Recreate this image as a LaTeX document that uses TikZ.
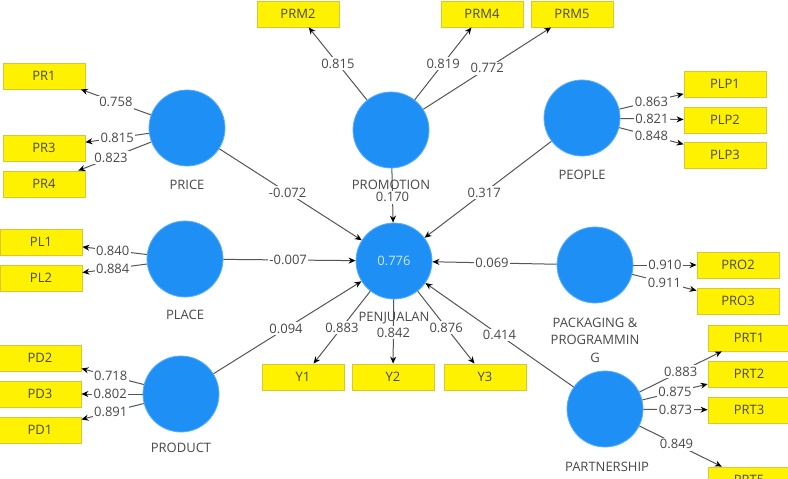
\documentclass[tikz,border=0pt]{standalone}
\usepackage{fontspec}
\setmainfont{Open Sans}
\usetikzlibrary{arrows.meta}
\definecolor{lv}{RGB}{30,144,245}
\definecolor{lvedge}{RGB}{90,175,250}
\definecolor{ind}{RGB}{255,242,0}
\definecolor{indedge}{RGB}{215,200,50}
\definecolor{txt}{RGB}{72,72,72}
\definecolor{wire}{RGB}{85,85,85}
\definecolor{rsq}{RGB}{205,230,255}
\begin{document}
\begin{tikzpicture}[x=0.5pt,y=-0.5pt,
  every node/.style={font=\fontsize{6.5}{8.75}\selectfont},
  lvnode/.style={circle, fill=lv, draw=lvedge, line width=0.4pt, minimum size=38pt, inner sep=0pt},
  indbox/.style={rectangle, fill=ind, draw=indedge, line width=0.4pt, minimum width=41pt, minimum height=13pt, inner sep=0pt, text=txt},
  lvname/.style={text=txt, align=center, inner sep=0pt},
  link/.style={draw=wire, line width=0.5pt, -{Stealth[length=3.5pt,width=3pt,color=black]}},
  wt/.style={fill=white, inner sep=0.8pt, text=txt, pos=0.5},
]
\useasboundingbox (0,0) rectangle (788,478);
\clip (0,0) rectangle (788,478);
\fill[white] (0,0) rectangle (788,478);

% latent variables
\node[lvnode] (price) at (187,128) {};
\node[lvnode] (promo) at (391,130) {};
\node[lvnode] (people) at (582,118) {};
\node[lvnode] (place) at (185,259) {};
\node[lvnode] (product) at (181,394) {};
\node[lvnode] (penj) at (394,261) {\textcolor{rsq}{0.776}};
\node[lvnode] (pack) at (595,265) {};
\node[lvnode] (partner) at (605,409) {};

% indicators
\node[indbox] (pr1) at (44,76) {PR1};
\node[indbox] (pr3) at (44,148) {PR3};
\node[indbox] (pr4) at (44,184) {PR4};
\node[indbox] (prm2) at (298,14) {PRM2};
\node[indbox] (prm4) at (482,14) {PRM4};
\node[indbox] (prm5) at (572,14) {PRM5};
\node[indbox] (plp1) at (725,84) {PLP1};
\node[indbox] (plp2) at (725,120) {PLP2};
\node[indbox] (plp3) at (725,155) {PLP3};
\node[indbox] (pl1) at (41,242) {PL1};
\node[indbox] (pl2) at (41,278) {PL2};
\node[indbox] (pd2) at (40,358) {PD2};
\node[indbox] (pd3) at (40,394) {PD3};
\node[indbox] (pd1) at (40,430) {PD1};
\node[indbox] (y1) at (303,377) {Y1};
\node[indbox] (y2) at (393,377) {Y2};
\node[indbox] (y3) at (485,377) {Y3};
\node[indbox] (pro2) at (738,265) {PRO2};
\node[indbox] (pro3) at (738,301) {PRO3};
\node[indbox] (prt1) at (749,338) {PRT1};
\node[indbox] (prt2) at (749,374) {PRT2};
\node[indbox] (prt3) at (749,410) {PRT3};
\node[indbox] (prt5) at (749,480) {PRT5};

% outer loadings
\draw[link] (price) -- node[wt]{0.758} (pr1);
\draw[link] (price) -- node[wt]{0.815} (pr3);
\draw[link] (price) -- node[wt,pos=0.55]{0.823} (pr4);
\draw[link] (promo) -- node[wt]{0.815} (prm2);
\draw[link] (promo) -- node[wt]{0.819} (prm4);
\draw[link] (promo) -- node[wt]{0.772} (prm5);
\draw[link] (people) -- node[wt]{0.863} (plp1);
\draw[link] (people) -- node[wt]{0.821} (plp2);
\draw[link] (people) -- node[wt]{0.848} (plp3);
\draw[link] (place) -- node[wt,pos=0.53]{0.840} (pl1);
\draw[link] (place) -- node[wt,pos=0.53]{0.884} (pl2);
\draw[link] (product) -- node[wt,pos=0.53]{0.718} (pd2);
\draw[link] (product) -- node[wt,pos=0.53]{0.802} (pd3);
\draw[link] (product) -- node[wt,pos=0.53]{0.891} (pd1);
\draw[link] (penj) -- node[wt]{0.883} (y1);
\draw[link] (penj) -- node[wt,pos=0.52]{0.842} (y2);
\draw[link] (penj) -- node[wt]{0.876} (y3);
\draw[link] (pack) -- node[wt]{0.910} (pro2);
\draw[link] (pack) -- node[wt]{0.911} (pro3);
\draw[link] (partner) -- node[wt]{0.883} (prt1);
\draw[link] (partner) -- node[wt]{0.875} (prt2);
\draw[link] (partner) -- node[wt]{0.873} (prt3);
\draw[link] (partner) -- node[wt,pos=0.45]{0.849} (prt5);

% inner paths
\draw[link] (price) -- node[wt,pos=0.48]{-0.072} (penj);
\draw[link] (place) -- node[wt,pos=0.49]{-0.007} (penj);
\draw[link] (product) -- node[wt,pos=0.49]{0.094} (penj);
\draw[link] (promo) -- node[wt,pos=0.53]{0.170} (penj);
\draw[link] (people) -- node[wt,pos=0.53]{0.317} (penj);
\draw[link] (pack) -- node[wt,pos=0.52]{0.069} (penj);
\draw[link] (partner) -- node[wt]{0.414} (penj);

% latent variable names
\node[lvname] (priceL) at (187,185) {PRICE};
\node[lvname] (promoL) at (391,185) {PROMOTION};
\node[lvname] (peopleL) at (582,175) {PEOPLE};
\node[lvname] (placeL) at (185,315) {PLACE};
\node[lvname] (productL) at (181,448) {PRODUCT};
\node[lvname] (penjL) at (394,318) {PENJUALAN};
\node[lvname] (packL) at (595,340) {PACKAGING \&\\PROGRAMMIN\\G};
\node[lvname] (partnerL) at (607,467) {PARTNERSHIP};
\end{tikzpicture}
\end{document}
